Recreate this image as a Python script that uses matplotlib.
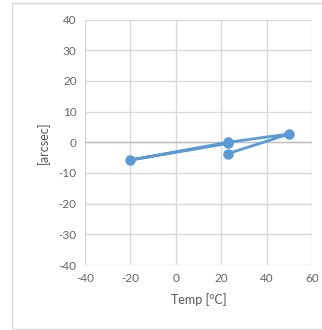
import matplotlib
matplotlib.use("Agg")
import matplotlib.pyplot as plt
from matplotlib.patches import Rectangle

# Thermal cycle: temperature [°C] vs. deviation [arcsec]
temp = [23, 50, 23, -20, 23]
arcsec = [-3.7, 2.7, 0.0, -5.8, -0.4]

x_ticks = [-40, -20, 0, 20, 40, 60]
y_ticks = [-40, -30, -20, -10, 0, 10, 20, 30, 40]

plt.rcParams['font.family'] = ['Lato', 'DejaVu Sans']
plt.rcParams['axes.unicode_minus'] = False

fig = plt.figure(figsize=(3.22, 3.30), dpi=100)
fig.patch.set_facecolor('white')

# outer chart frame
fig.add_artist(Rectangle((12 / 322, 1 / 330), 1.2, 326 / 330, transform=fig.transFigure,
                         fill=False, edgecolor='#d9d9d9', linewidth=1.0))

ax = fig.add_axes([85 / 322, 65 / 330, 227 / 322, 245.5 / 330])
ax.set_xlim(-40, 60)
ax.set_ylim(-40, 40)
ax.set_xticks(x_ticks)
ax.set_yticks(y_ticks)

ax.grid(True, color='#d9d9d9', linewidth=1.0)
ax.set_axisbelow(True)
for s in ax.spines.values():
    s.set_visible(False)
ax.axhline(0, color='#bfbfbf', linewidth=1.0, zorder=1)

ax.plot(temp, arcsec, color='#5b9bd5', linewidth=2.0, marker='o',
        markersize=6.5, markerfacecolor='#5b9bd5', markeredgecolor='#5b9bd5', zorder=3)

ax.tick_params(axis='both', length=0, labelsize=8.5, labelcolor='#666666', pad=6)
ax.set_xlabel('Temp [°C]', fontsize=9, color='#595959', labelpad=6)
ax.set_ylabel('[arcsec]', fontsize=9, color='#595959', labelpad=6)

fig.savefig('out.png', dpi=100, facecolor='white')
